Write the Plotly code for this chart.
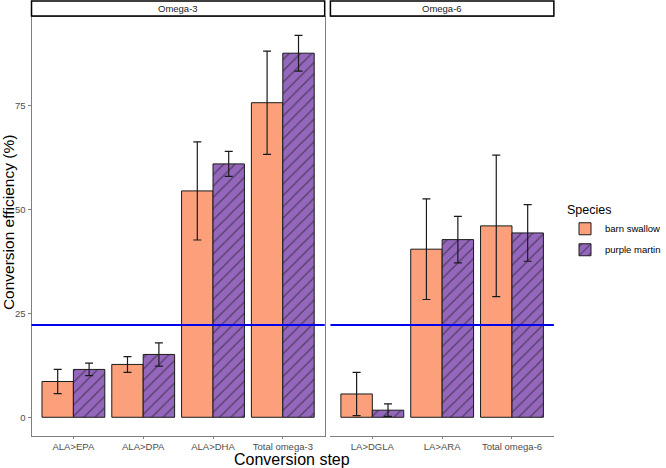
import plotly.graph_objects as go

# ---- data ----
o3_steps = ["ALA>EPA", "ALA>DPA", "ALA>DHA", "Total omega-3"]
o6_steps = ["LA>DGLA", "LA>ARA", "Total omega-6"]
barn_o3 = [8.6, 12.7, 54.4, 75.6]
barn_o3_err = [2.9, 1.9, 11.8, 12.4]
martin_o3 = [11.5, 15.1, 60.9, 87.5]
martin_o3_err = [1.5, 2.8, 3.0, 4.3]
barn_o6 = [5.6, 40.4, 46.0]
barn_o6_err = [5.2, 12.1, 17.0]
martin_o6 = [1.7, 42.7, 44.3]
martin_o6_err = [1.5, 5.6, 6.8]
ref_line = 22.2
y_ticks = [0, 25, 50, 75]
species = ["barn swallow", "purple martin"]
panels = ["Omega-3", "Omega-6"]

W, H = 666, 468
BARN = "#FCA07C"
MARTIN = "#9467BD"
FONT = "Liberation Sans, Arial, sans-serif"
GRAY = "#7F7F7F"

def px_x(p):
    return p / W

def px_y(p):
    return 1 - p / H

fig = go.Figure()

def add_bars(x, y, err, name, color, xa, show, pattern):
    fig.add_trace(go.Bar(
        x=x, y=y, name=name, xaxis=xa, yaxis="y",
        marker=dict(color=color, line=dict(color="#1a1a1a", width=1),
                    pattern=dict(shape="/", fgcolor="#1a1a1a", size=8, solidity=0.18) if pattern else None),
        error_y=dict(type="data", array=err, color="#1a1a1a", thickness=1.2, width=4),
        showlegend=show, legendgroup=name, offsetgroup=name,
    ))

add_bars(o3_steps, barn_o3, barn_o3_err, species[0], BARN, "x", True, False)
add_bars(o3_steps, martin_o3, martin_o3_err, species[1], MARTIN, "x", True, True)
add_bars(o6_steps, barn_o6, barn_o6_err, species[0], BARN, "x2", False, False)
add_bars(o6_steps, martin_o6, martin_o6_err, species[1], MARTIN, "x2", False, True)

ydom = [px_y(436), px_y(17)]
axis_common = dict(type="category", showline=True, mirror=True, linecolor=GRAY, linewidth=1,
                   ticks="outside", ticklen=2, tickcolor=GRAY, showgrid=False, zeroline=False,
                   tickfont=dict(family=FONT, size=9.5, color="#4D4D4D"), anchor="y")

fig.update_layout(
    width=W, height=H, margin=dict(l=0, r=0, t=0, b=0),
    plot_bgcolor="white", paper_bgcolor="white",
    barmode="group", bargap=0.1, bargroupgap=0,
    xaxis=dict(axis_common, domain=[px_x(33), px_x(340)], range=[-0.6, 3.6]),
    xaxis2=dict(axis_common, domain=[px_x(346), px_x(580)], range=[-0.6, 2.6]),
    yaxis=dict(domain=ydom, range=[-4.5, 96.2], tickvals=y_ticks, showline=True, mirror=True,
               linecolor=GRAY, linewidth=1, ticks="outside", ticklen=3, tickcolor=GRAY,
               showgrid=False, zeroline=False,
               tickfont=dict(family=FONT, size=9.5, color="#4D4D4D")),
    legend=dict(x=px_x(592), y=px_y(198), xanchor="left", yanchor="top",
                title=dict(text="Species", font=dict(family=FONT, size=12.5, color="black")),
                font=dict(family=FONT, size=9.5, color="black"), tracegroupgap=2,
                itemwidth=30, bgcolor="rgba(0,0,0,0)"),
    font=dict(family=FONT),
)

# reference line across both panels
for xa in ["x", "x2"]:
    fig.add_shape(type="line", xref=xa + " domain", yref="y", x0=0, x1=1, y0=ref_line, y1=ref_line,
                  line=dict(color="#0000EE", width=2), layer="above")

# strips
for (x0, x1), label in zip([(33, 340), (346, 580)], panels):
    fig.add_shape(type="rect", xref="paper", yref="paper", x0=px_x(x0), x1=px_x(x1),
                  y0=px_y(16), y1=px_y(1), line=dict(color="black", width=1.5), fillcolor="white")
    fig.add_annotation(x=px_x((x0 + x1) / 2), y=px_y(8.5), xref="paper", yref="paper",
                       xanchor="center", yanchor="middle",
                       text=label, showarrow=False, font=dict(family=FONT, size=9.5, color="#1a1a1a"))

fig.add_annotation(x=px_x(306), y=px_y(459.5), xref="paper", yref="paper", text="Conversion step",
                   xanchor="center", yanchor="middle",
                   showarrow=False, font=dict(family=FONT, size=16, color="black"))
fig.add_annotation(x=px_x(8.5), y=px_y(223), xref="paper", yref="paper", text="Conversion efficiency (%)",
                   xanchor="center", yanchor="middle",
                   textangle=-90, showarrow=False, font=dict(family=FONT, size=15.5, color="black"))

fig.write_html("out.html")
